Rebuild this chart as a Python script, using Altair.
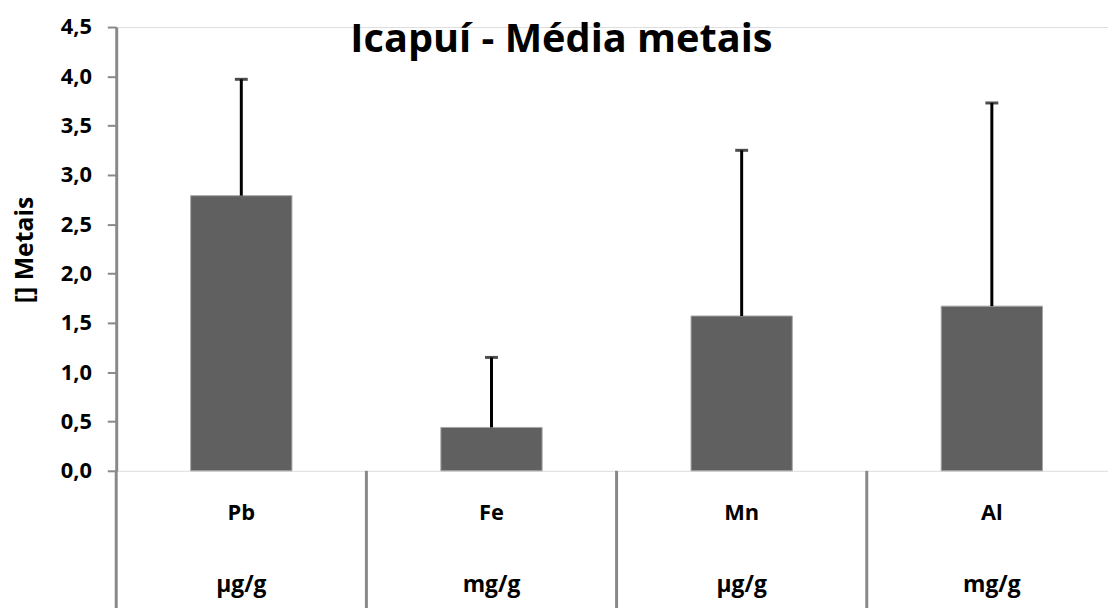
import altair as alt
import pandas as pd

elements = ["Pb", "Fe", "Mn", "Al"]
units = ["µg/g", "mg/g", "µg/g", "mg/g"]
means = [2.79, 0.44, 1.57, 1.67]
upper = [3.97, 1.15, 3.25, 3.73]
yticks = [0.0, 0.5, 1.0, 1.5, 2.0, 2.5, 3.0, 3.5, 4.0, 4.5]
title_text = "Icapuí - Média metais"
y_title = "[] Metais"

df = pd.DataFrame({"element": elements, "unit": units, "mean": means, "upper": upper})

FONT = "Open Sans"
GRAY = "#898989"
W = 999
H = 447
STEP = 252
TOTAL_H = 600

xscale = alt.Scale(range=[0, 4 * STEP], paddingInner=0, paddingOuter=0)
xaxis = alt.Axis(
    title=None,
    labels=False,
    ticks=False,
    domain=True,
    domainColor=GRAY,
    domainWidth=2.5,
)
x_main = alt.X("element:N", sort=elements, scale=xscale, axis=xaxis)
x_plain = alt.X("element:N", sort=elements, scale=xscale, axis=None)

yscale = alt.Scale(domain=[0, 4.5], nice=False, zero=True)
yaxis = alt.Axis(
    title=y_title,
    values=yticks,
    labelExpr="replace(format(datum.value, '.1f'), '.', ',')",
    grid=False,
    tickSize=9,
    tickColor=GRAY,
    tickWidth=2,
    domainColor=GRAY,
    domainWidth=3,
    labelFont=FONT,
    labelFontSize=22,
    labelFontWeight="bold",
    labelColor="black",
    labelPadding=16,
    titleFont=FONT,
    titleFontSize=25,
    titleFontWeight="bold",
    titleColor="black",
    titleX=-92,
    titleY=224,
    titleBaseline="middle",
    titleAngle=-90,
)

bars = alt.Chart(df).mark_bar(
    color="#606060", stroke="#a6a6a6", strokeWidth=1, width=alt.RelativeBandSize(102 / 252)
).encode(x=x_main, y=alt.Y("mean:Q", scale=yscale, axis=yaxis))

err = alt.Chart(df).mark_rule(color="black", strokeWidth=3).encode(
    x=x_plain, y=alt.Y("mean:Q", scale=yscale), y2="upper:Q"
)

caps = alt.Chart(df).mark_tick(color="black", thickness=3, size=13).encode(
    x=x_plain, y=alt.Y("upper:Q", scale=yscale)
)

seps = alt.Chart(df).mark_rule(color=GRAY, strokeWidth=3).encode(
    x=alt.X("element:N", sort=elements, scale=xscale, axis=None, bandPosition=0),
    y=alt.value(H),
    y2=alt.value(H + 200),
)

elem_labels = alt.Chart(df).mark_text(
    font=FONT, fontSize=22, fontWeight="bold", color="black", baseline="middle"
).encode(x=x_plain, y=alt.value(H + 43), text="element:N")

unit_labels = alt.Chart(df).mark_text(
    font=FONT, fontSize=23, fontWeight="bold", color="black", baseline="middle"
).encode(x=x_plain, y=alt.value(H + 115), text="unit:N")

chart = (
    alt.layer(seps, bars, err, caps, elem_labels, unit_labels)
    .properties(
        width=W,
        height=H,
        autosize=alt.AutoSizeParams(type="none"),
        padding={"left": 109, "top": 17, "right": 0, "bottom": TOTAL_H - 17 - H},
        title=alt.TitleParams(
            title_text,
            font=FONT,
            fontSize=40,
            fontWeight="bold",
            color="black",
            anchor="middle",
            frame="group",
            baseline="alphabetic",
            dx=-51,
            dy=36,
            offset=-40,
        ),
    )
    .configure_view(stroke=None)
    .configure(background="white")
)

chart.save("out.html", embed_options={"renderer": "svg", "actions": False})
